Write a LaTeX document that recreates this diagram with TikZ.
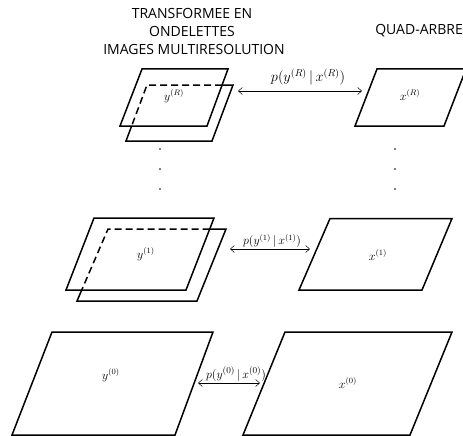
\documentclass[tikz,border=0pt]{standalone}
\usepackage{fontspec}
\newfontfamily\headfont{Open Sans}
\usetikzlibrary{arrows.meta}
\tikzset{
  plane/.style={line width=1.5pt, line join=miter},
  hidden/.style={line width=1.5pt, dash pattern=on 7pt off 4pt},
  link/.style={line width=0.5pt, {Straight Barb[length=4pt,width=7pt]}-{Straight Barb[length=4pt,width=7pt]}},
  head/.style={font=\headfont\fontsize{14}{16}\selectfont, inner sep=0pt, align=center},
  lab/.style={inner sep=0pt, font=\large},
  dotmark/.style={fill=black, draw=none}
}
\begin{document}
\begin{tikzpicture}[x=1pt,y=-1pt]
\useasboundingbox (0,0) rectangle (463,436);
% headers
\node[head] (h1) at (192,13) {TRANSFORMEE EN};
\node[head] (h2) at (192,31) {ONDELETTES};
\node[head] (h3) at (194,49) {IMAGES MULTIRESOLUTION};
\node[head, anchor=east] (h4) at (463,31) {QUAD-ARBRE};

% ---------- level R ----------
\coordinate (RA1) at (142,69); \coordinate (RB1) at (228,69);
\coordinate (RC1) at (207,126); \coordinate (RD1) at (120,126);
\coordinate (RA2) at (147,85); \coordinate (RB2) at (233,85);
\coordinate (RC2) at (212,141); \coordinate (RD2) at (126,141);
\draw[plane] (RA1) -- (RB1) -- (RC1) -- (RD1) -- cycle;
\coordinate (RI1) at (intersection of RA2--RB2 and RB1--RC1);
\coordinate (RI2) at (intersection of RA2--RD2 and RD1--RC1);
\draw[plane] (RI1) -- (RB2) -- (RC2) -- (RD2) -- (RI2);
\draw[hidden] (RI1) -- (RA2) -- (RI2);
\draw[plane] (377,69) -- (466,69) -- (444,126) -- (355,126) -- cycle;
\node[lab] (yR) at (174,96) {$y^{(R)}$};
\node[lab] (xR) at (410,95) {$x^{(R)}$};
\coordinate (aRl) at (238,91); \coordinate (aRr) at (362,91);
\draw[link] (aRl) -- (aRr);
\node[lab, font=\Large] (pR) at (308,77) {$p(y^{(R)}\,|\,x^{(R)})$};

% dots
\foreach \yy in {149,169,189} {
  \fill[dotmark] (160,\yy) circle (0.8);
  \fill[dotmark] (395,\yy) circle (0.8);
}

% ---------- level 1 ----------
\coordinate (OA1) at (94,218); \coordinate (OB1) at (214,218);
\coordinate (OC1) at (186,290); \coordinate (OD1) at (66,290);
\coordinate (OA2) at (108,229); \coordinate (OB2) at (226,229);
\coordinate (OC2) at (197,301); \coordinate (OD2) at (77,301);
\draw[plane] (OA1) -- (OB1) -- (OC1) -- (OD1) -- cycle;
\coordinate (OI1) at (intersection of OA2--OB2 and OB1--OC1);
\coordinate (OI2) at (intersection of OA2--OD2 and OD1--OC1);
\draw[plane] (OI1) -- (OB2) -- (OC2) -- (OD2) -- (OI2);
\draw[hidden] (OI1) -- (OA2) -- (OI2);
\draw[plane] (330,218.5) -- (452,218.5) -- (422,290) -- (299,290) -- cycle;
\node[lab] (y1) at (146,254) {$y^{(1)}$};
\node[lab] (x1) at (378,255) {$x^{(1)}$};
\coordinate (a1l) at (230,249); \coordinate (a1r) at (310,249);
\draw[link] (a1l) -- (a1r);
\node[lab, font=\fontsize{11.5}{13}\selectfont] (p1) at (272,241) {$p(y^{(1)}\,|\,x^{(1)})$};

% ---------- level 0 ----------
\draw[plane] (52,332) -- (213,332) -- (175,435) -- (12,435) -- cycle;
\draw[plane] (285,332) -- (452,332) -- (410,435) -- (243,435) -- cycle;
\node[lab] (y0) at (111,375) {$y^{(0)}$};
\node[lab] (x0) at (348,383) {$x^{(0)}$};
\coordinate (a0l) at (198,383); \coordinate (a0r) at (260,383);
\draw[link] (a0l) -- (a0r);
\node[lab, font=\fontsize{12.5}{14}\selectfont] (p0) at (236,374) {$p(y^{(0)}\,|\,x^{(0)})$};
\end{tikzpicture}
\end{document}
